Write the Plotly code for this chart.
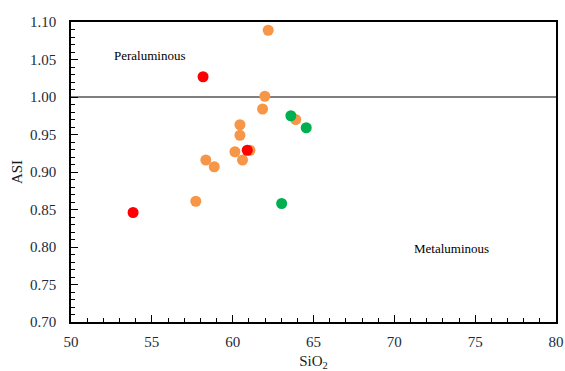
import plotly.graph_objects as go

# SiO2 (wt%) vs ASI for three sample groups
orange_sio2 = [62.2, 61.99, 61.85, 63.9, 60.45, 60.45, 60.14, 61.07, 60.61, 58.34, 58.86, 57.72]
orange_asi = [1.089, 1.001, 0.984, 0.970, 0.963, 0.949, 0.927, 0.929, 0.916, 0.916, 0.907, 0.861]

red_sio2 = [58.17, 60.9, 53.84]
red_asi = [1.027, 0.929, 0.846]

green_sio2 = [63.6, 64.55, 63.03]
green_asi = [0.975, 0.959, 0.858]

boundary_asi = 1.0
x_range = [50, 80]
y_range = [0.70, 1.10]

FONT = "Times New Roman, Liberation Serif, serif"
LABEL = "#222a3a"

fig = go.Figure()

fig.add_trace(go.Scatter(x=x_range, y=[boundary_asi, boundary_asi], mode="lines",
                         line=dict(color="black", width=1.2), hoverinfo="skip",
                         showlegend=False))

for xs, ys, col in [(orange_sio2, orange_asi, "#F79646"),
                    (red_sio2, red_asi, "#FF0000"),
                    (green_sio2, green_asi, "#00B050")]:
    fig.add_trace(go.Scatter(x=xs, y=ys, mode="markers",
                             marker=dict(color=col, size=11, line=dict(width=0)),
                             showlegend=False))

fig.add_annotation(x=54.87, y=1.055, text="Peraluminous", showarrow=False,
                   font=dict(family=FONT, size=13, color="black"))
fig.add_annotation(x=73.55, y=0.798, text="Metaluminous", showarrow=False,
                   font=dict(family=FONT, size=13, color="black"))

fig.update_layout(
    width=565, height=371,
    margin=dict(l=71, r=9, t=22, b=49),
    plot_bgcolor="white", paper_bgcolor="white",
    font=dict(family=FONT, size=14, color=LABEL),
    xaxis=dict(range=x_range, dtick=5, showgrid=False, zeroline=False, automargin=False,
               showline=True, linecolor="black", linewidth=1.5, mirror=True,
               ticks="inside", ticklen=7, tickcolor="black", tickwidth=1.2,
               ticklabelstandoff=5,
               tickfont=dict(family=FONT, size=15, color=LABEL),
               minor=dict(dtick=1, ticks="inside", ticklen=4, tickcolor="black", tickwidth=1),
               title=dict(text="SiO<sub>2</sub>", standoff=10,
                          font=dict(family=FONT, size=15, color="#1a1a1a"))),
    yaxis=dict(range=y_range, dtick=0.05, tickformat=".2f", showgrid=False, zeroline=False,
               automargin=False,
               showline=True, linecolor="black", linewidth=1.5, mirror=True,
               ticks="inside", ticklen=7, tickcolor="black", tickwidth=1.2,
               ticklabelstandoff=10,
               tickfont=dict(family=FONT, size=15, color=LABEL),
               minor=dict(dtick=0.01, ticks="inside", ticklen=4, tickcolor="black", tickwidth=1),
               title=dict(text="ASI", standoff=4,
                          font=dict(family=FONT, size=15, color="#1a1a1a"))),
)

fig.write_html("out.html")
